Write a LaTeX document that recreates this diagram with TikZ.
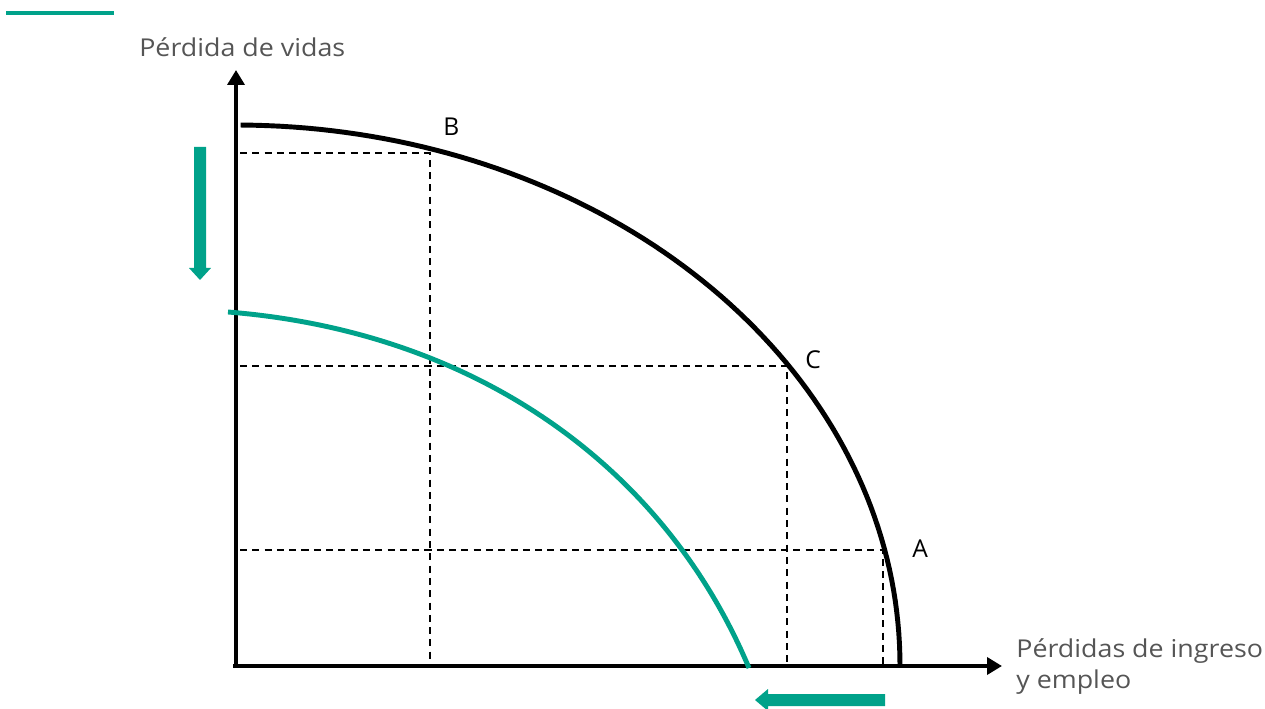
\documentclass[tikz,border=0pt]{standalone}
\usepackage{fontspec}
\setmainfont{Open Sans}
\newfontfamily\widefont[FakeStretch=1.09]{Open Sans}
\usetikzlibrary{arrows.meta}
\definecolor{tealc}{HTML}{00A28A}
\definecolor{labgray}{HTML}{555555}
\begin{document}
\begin{tikzpicture}[x=0.02cm,y=-0.02cm,
  axis/.style={line width=2.8pt,-{Triangle[width=9.6pt,length=8.5pt]}},
  guide/.style={line width=0.8pt,dash pattern=on 4pt off 3pt},
  curveblack/.style={line width=2.8pt},
  curveteal/.style={line width=2.8pt,draw=tealc},
  axlabel/.style={font=\widefont\fontsize{14}{17.6}\selectfont,text=labgray,inner sep=0pt},
  ptlabel/.style={font=\fontsize{14}{17}\selectfont,inner sep=0pt}]
\useasboundingbox (0,0) rectangle (1265,709);
% decorative line
\draw[tealc,line width=2.3pt] (6,13) -- (114,13);
% coordinates
\coordinate (Ytop) at (236,70);
\coordinate (Xend) at (1002,666);
\coordinate (Ystart) at (236,668);
\coordinate (Xstart) at (233,666);
% guides
\coordinate (B) at (430,153);
\coordinate (C) at (787,366);
\coordinate (A) at (883,550);
\coordinate (BL) at (240,153);
\coordinate (CL) at (240,366);
\coordinate (AL) at (240,550);
\coordinate (BB) at (430,666);
\coordinate (CB) at (787,666);
\coordinate (AB) at (883,666);
\draw[guide] (BL) -- (B) -- (BB);
\draw[guide] (CL) -- (C) -- (CB);
\draw[guide] (AL) -- (A) -- (AB);
% axes
\draw[axis] (Ystart) -- (Ytop);
\draw[axis] (Xstart) -- (Xend);
% black frontier (quarter ellipse)
\draw[curveblack] plot[domain=89.6:0,samples=80] ({236+664*cos(\x)},{665-540*sin(\x)});
% teal frontier
\coordinate (T0) at (228,312);
\coordinate (T1) at (749,668);
\draw[curveteal] (T0) .. controls (478,332) and (665,468) .. (T1);
% teal arrows
\fill[tealc] (194,147) -- (206,147) -- (206,268) -- (211,268) -- (200,280) -- (189,268) -- (194,268) -- cycle;
\fill[tealc] (885,694) -- (885,706) -- (768,706) -- (768,711) -- (755,700) -- (768,689) -- (768,694) -- cycle;
% labels
\node[axlabel,anchor=base west] (ylab) at (139,57) {Pérdida de vidas};
\node[axlabel,anchor=base west] (xlab1) at (1016,657) {Pérdidas de ingreso};
\node[axlabel,anchor=base west] (xlab2) at (1016,688) {y empleo};
\node[ptlabel,anchor=base west] (lB) at (443,136) {B};
\node[ptlabel,anchor=base west] (lC) at (805,369) {C};
\node[ptlabel,anchor=base west] (lA) at (912,558) {A};
\end{tikzpicture}
\end{document}
